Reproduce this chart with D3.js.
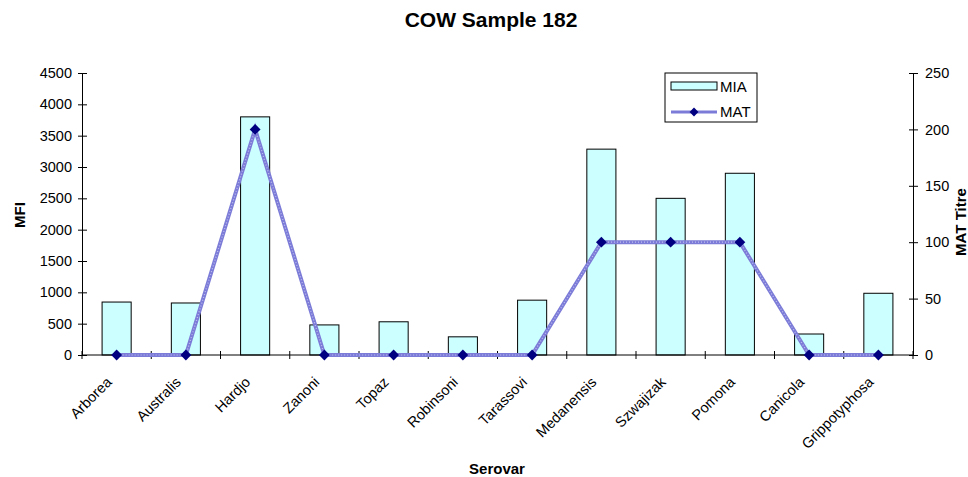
<!DOCTYPE html>
<html>
<head>
<meta charset="utf-8">
<script src="https://cdn.jsdelivr.net/npm/d3@7.9.0/dist/d3.min.js"></script>
<style>
  body { margin: 0; background: #fff; }
  svg { font-family: Arial, "Liberation Sans", sans-serif; display: block; }
</style>
</head>
<body>
<svg id="chart" width="968" height="477"></svg>
<script>
// data
const serovars = ["Arborea", "Australis", "Hardjo", "Zanoni", "Topaz", "Robinsoni",
  "Tarassovi", "Medanensis", "Szwajizak", "Pomona", "Canicola", "Grippotyphosa"];
const mia = [845, 830, 3800, 480, 530, 290, 875, 3285, 2500, 2900, 335, 985];
const mat = [0, 0, 200, 0, 0, 0, 0, 100, 100, 100, 0, 0];
const mfiTicks = [0, 500, 1000, 1500, 2000, 2500, 3000, 3500, 4000, 4500];
const matTicks = [0, 50, 100, 150, 200, 250];

const svg = d3.select("#chart");
const plotLeft = 82, plotRight = 913, plotTop = 73, plotBottom = 355;

const x = d3.scaleBand().domain(serovars).range([plotLeft, plotRight]);
const yL = d3.scaleLinear().domain([0, 4500]).range([plotBottom, plotTop]);
const yR = d3.scaleLinear().domain([0, 250]).range([plotBottom, plotTop]);
const cx = (d) => x(d) + x.bandwidth() / 2;

// bars
const bw = x.bandwidth() * 0.42;
svg.append("g").selectAll("rect")
  .data(serovars)
  .join("rect")
  .attr("x", (d) => cx(d) - bw / 2)
  .attr("y", (d, i) => yL(mia[i]))
  .attr("width", bw)
  .attr("height", (d, i) => plotBottom - yL(mia[i]))
  .attr("fill", "#ccffff")
  .attr("stroke", "#000")
  .attr("stroke-width", 1);

// left axis
const gl = svg.append("g").attr("transform", `translate(${plotLeft},0)`)
  .call(d3.axisLeft(yL).tickValues(mfiTicks).tickFormat(d3.format("d")).tickSize(0).tickPadding(10));
gl.select(".domain").attr("stroke", "#000");
gl.selectAll(".tick line").attr("x1", -4).attr("x2", 5).attr("stroke", "#000");
gl.selectAll("text").attr("font-size", 14.5).attr("fill", "#000");

// right axis
const gr = svg.append("g").attr("transform", `translate(${plotRight},0)`)
  .call(d3.axisRight(yR).tickValues(matTicks).tickSize(0).tickPadding(12));
gr.select(".domain").attr("stroke", "#000");
gr.selectAll(".tick line").attr("x1", -4).attr("x2", 5).attr("stroke", "#000");
gr.selectAll("text").attr("font-size", 14.5).attr("fill", "#000");

// x axis with ticks at category boundaries
svg.append("line").attr("x1", plotLeft).attr("x2", plotRight)
  .attr("y1", plotBottom).attr("y2", plotBottom).attr("stroke", "#000");
svg.append("g").selectAll("line")
  .data(d3.range(serovars.length + 1))
  .join("line")
  .attr("x1", (i) => plotLeft + i * x.step()).attr("x2", (i) => plotLeft + i * x.step())
  .attr("y1", plotBottom - 4).attr("y2", plotBottom + 4)
  .attr("stroke", "#000");

svg.append("g").selectAll("text")
  .data(serovars)
  .join("text")
  .attr("transform", (d) => `translate(${cx(d) - 4},${plotBottom + 28}) rotate(-45)`)
  .attr("text-anchor", "end")
  .attr("font-size", 14.5)
  .text((d) => d);

// MAT line
const line = d3.line()
  .x((d, i) => cx(serovars[i]))
  .y((d) => yR(d));
svg.append("path").datum(mat)
  .attr("d", line).attr("fill", "none")
  .attr("stroke", "#7c7cd8").attr("stroke-width", 4);
svg.append("path").datum(mat)
  .attr("d", line).attr("fill", "none")
  .attr("stroke", "#c0c0f0").attr("stroke-width", 1.2)
  .attr("stroke-dasharray", "1,2");

const sym = d3.symbol().type(d3.symbolDiamond2).size(75);
svg.append("g").selectAll("path")
  .data(mat)
  .join("path")
  .attr("transform", (d, i) => `translate(${cx(serovars[i])},${yR(d)})`)
  .attr("d", sym)
  .attr("fill", "#000080");

// titles
svg.append("text").attr("x", 491).attr("y", 27).attr("text-anchor", "middle")
  .attr("font-size", 21).attr("font-weight", "bold").text("COW Sample 182");
svg.append("text").attr("x", 497).attr("y", 474).attr("text-anchor", "middle")
  .attr("font-size", 15).attr("font-weight", "bold").text("Serovar");
svg.append("text").attr("transform", "translate(25,215) rotate(-90)")
  .attr("text-anchor", "middle").attr("font-size", 15).attr("font-weight", "bold").text("MFI");
svg.append("text").attr("transform", "translate(966,222) rotate(-90)")
  .attr("text-anchor", "middle").attr("font-size", 15).attr("font-weight", "bold").text("MAT Titre");

// legend
const lg = svg.append("g").attr("transform", "translate(665,73)");
lg.append("rect").attr("width", 92).attr("height", 49)
  .attr("fill", "#fff").attr("stroke", "#000");
lg.append("rect").attr("x", 6).attr("y", 9).attr("width", 46).attr("height", 8)
  .attr("fill", "#ccffff").attr("stroke", "#000");
lg.append("line").attr("x1", 6).attr("x2", 52).attr("y1", 39).attr("y2", 39)
  .attr("stroke", "#7c7cd8").attr("stroke-width", 3);
lg.append("path").attr("transform", "translate(29,39)")
  .attr("d", d3.symbol().type(d3.symbolDiamond2).size(50)).attr("fill", "#000080");
lg.append("text").attr("x", 55).attr("y", 19).attr("font-size", 15).text("MIA");
lg.append("text").attr("x", 55).attr("y", 44).attr("font-size", 15).text("MAT");
</script>
</body>
</html>
